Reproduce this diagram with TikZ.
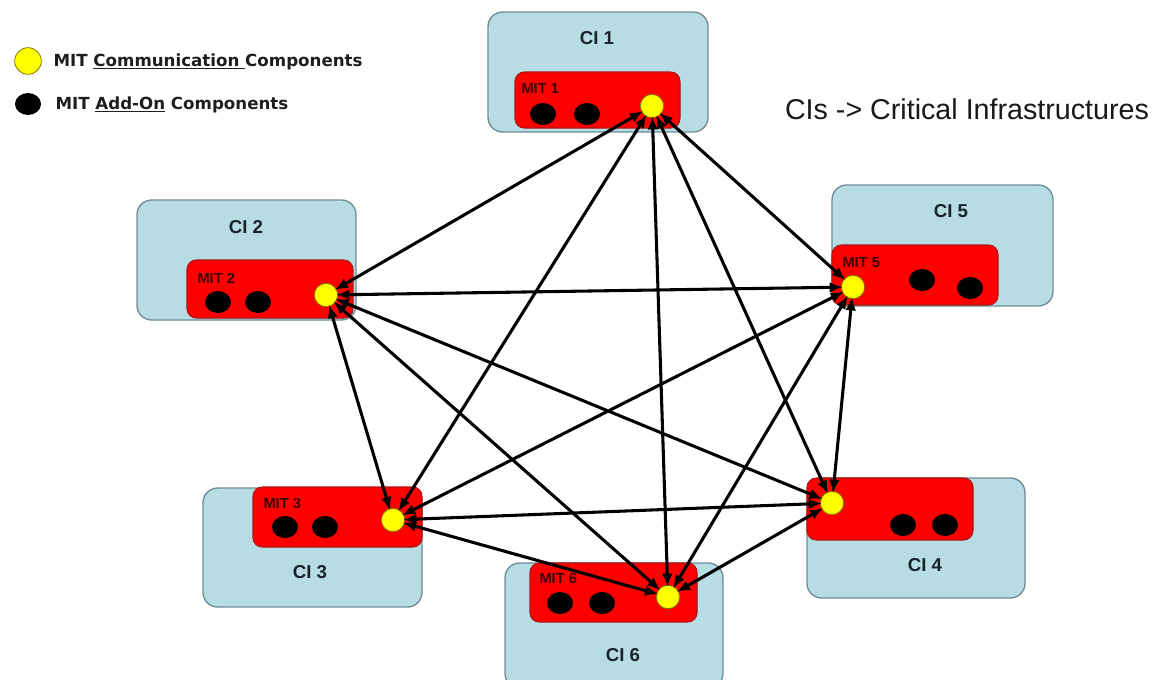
\documentclass[tikz,border=0pt]{standalone}
\usepackage{fontspec}
\setmainfont{Liberation Sans}
\newfontfamily\legendfont{DejaVu Sans}
\usetikzlibrary{arrows.meta}

\tikzset{every picture/.style={line width=0.75pt}}
\tikzset{
	ci box/.style={draw={rgb, 255:red, 110; green, 140; blue, 150}, fill={rgb, 255:red, 183; green, 220; blue, 228}, rounded corners=11pt, line width=1pt},
	mit box/.style={draw={rgb, 255:red, 175; green, 20; blue, 20}, fill={rgb, 255:red, 255; green, 0; blue, 0}, rounded corners=7pt, line width=0.8pt},
	comm/.style={circle, draw={rgb, 255:red, 130; green, 120; blue, 0}, fill={rgb, 255:red, 255; green, 255; blue, 0}, inner sep=0pt, minimum size=17.5pt, line width=0.6pt},
	addon/.style={fill={rgb, 255:red, 0; green, 0; blue, 0}},
	link/.style={{Latex[length=10pt,width=8pt]}-{Latex[length=10pt,width=8pt]}, line width=2.3pt, shorten <=-1.5pt, shorten >=-1.5pt},
	ci label/.style={font=\bfseries\fontsize{14}{16}\selectfont, text={rgb, 255:red, 25; green, 35; blue, 45}},
	mit label/.style={font=\bfseries\fontsize{11}{12}\selectfont, text={rgb, 255:red, 60; green, 0; blue, 0}, anchor=west, inner sep=0pt},
	legend text/.style={font=\legendfont\bfseries\fontsize{12.5}{15}\selectfont, text={rgb, 255:red, 30; green, 30; blue, 30}, anchor=west, inner sep=0pt}
}

\begin{document}
\begin{tikzpicture}[x=0.75pt,y=0.75pt,yscale=-1,xscale=1]
	\useasboundingbox (0,0) rectangle (1155,679);

	%Rounded Rect: CI boxes
	\draw [ci box] (488,12) rectangle (708,132);
	\draw [ci box] (137,200) rectangle (356,320);
	\draw [ci box] (832,185) rectangle (1053,306);
	\draw [ci box] (203,488) rectangle (422,607);
	\draw [ci box] (807,478) rectangle (1025,598);
	\draw [ci box] (505,563) rectangle (723,688);

	%Rounded Rect: MIT boxes
	\draw [mit box] (515,72) rectangle (680,128);
	\draw [mit box] (187,260) rectangle (353,318);
	\draw [mit box] (832,245) rectangle (998,305);
	\draw [mit box] (253,487) rectangle (422,547);
	\draw [mit box] (807,478) rectangle (973,540);
	\draw [mit box] (530,563) rectangle (697,622);

	%Shape: Ellipse -- add-on components
	\fill [addon] (543,114) ellipse [x radius=13, y radius=11];
	\fill [addon] (587,114) ellipse [x radius=13, y radius=11];
	\fill [addon] (218,302) ellipse [x radius=13, y radius=11];
	\fill [addon] (258,302) ellipse [x radius=13, y radius=11];
	\fill [addon] (922,280) ellipse [x radius=13, y radius=11];
	\fill [addon] (970,288) ellipse [x radius=13, y radius=11];
	\fill [addon] (285,527) ellipse [x radius=13, y radius=11];
	\fill [addon] (325,527) ellipse [x radius=13, y radius=11];
	\fill [addon] (903,525) ellipse [x radius=13, y radius=11];
	\fill [addon] (945,525) ellipse [x radius=13, y radius=11];
	\fill [addon] (560,603) ellipse [x radius=13, y radius=11];
	\fill [addon] (602,603) ellipse [x radius=13, y radius=11];

	%Shape: Circle -- communication components
	\node [comm] (c1) at (652,106) {};
	\node [comm] (c2) at (326,295) {};
	\node [comm] (c3) at (393,520) {};
	\node [comm] (c4) at (832,503) {};
	\node [comm] (c5) at (853,287) {};
	\node [comm] (c6) at (668,597) {};

	%Straight Lines: every MIT talks to every other one
	\foreach \a/\b in {1/2,1/3,1/4,1/5,1/6,2/3,2/4,2/5,2/6,3/4,3/5,3/6,4/5,4/6,5/6}
		\draw [link] (c\a) -- (c\b);

	% Text Node
	\node [ci label] (ci1) at (597,38) {CI 1};
	% Text Node
	\node [ci label] (ci2) at (246,227) {CI 2};
	% Text Node
	\node [ci label] (ci3) at (310,572) {CI 3};
	% Text Node
	\node [ci label] (ci4) at (925,565) {CI 4};
	% Text Node
	\node [ci label] (ci5) at (951,211) {CI 5};
	% Text Node
	\node [ci label] (ci6) at (623,655) {CI 6};

	% Text Node
	\node [mit label] (mit1) at (521,88) {MIT 1};
	% Text Node
	\node [mit label] (mit2) at (197,278) {MIT 2};
	% Text Node
	\node [mit label] (mit3) at (263,503) {MIT 3};
	% Text Node
	\node [mit label] (mit5) at (842,263) {MIT 5};
	% Text Node
	\node [mit label] (mit6) at (539,578) {MIT 6};

	% Text Node
	\node [font=\fontsize{21.5}{26}\selectfont, text={rgb, 255:red, 25; green, 25; blue, 25}] (abbr) at (967,109) {CIs -> Critical Infrastructures};

	%Legend
	\node [comm, minimum size=20pt] (lgcomm) at (28,61) {};
	\fill [addon] (28,104) ellipse [x radius=13, y radius=11];
	% Text Node
	\node [legend text] (lgtext1) at (53,62) {MIT \underline{Communication\ }Components};
	% Text Node
	\node [legend text] (lgtext2) at (55,105) {MIT \underline{Add-On} Components};

\end{tikzpicture}
\end{document}
